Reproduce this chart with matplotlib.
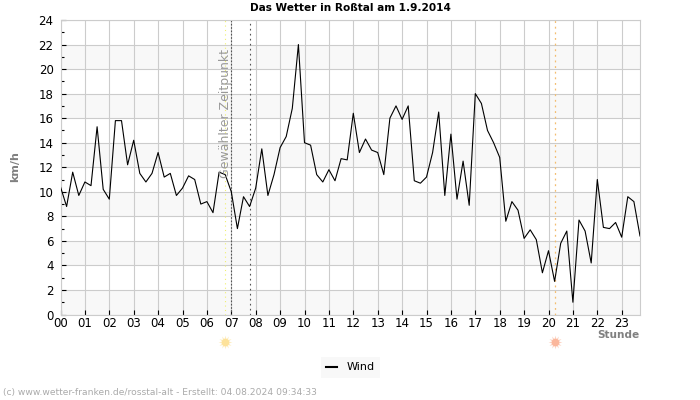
import matplotlib
matplotlib.use("Agg")
import matplotlib.pyplot as plt
import numpy as np

# Windwerte alle 15 Minuten (km/h)
wind = [10.4, 8.8, 11.6, 9.7, 10.8, 10.5, 15.3, 10.2, 9.4, 15.8, 15.8, 12.2,
        14.2, 11.5, 10.8, 11.5, 13.2, 11.2, 11.5, 9.7, 10.3, 11.3, 11.0, 9.0,
        9.2, 8.3, 11.6, 11.4, 10.0, 7.0, 9.6, 8.8, 10.3, 13.5, 9.7, 11.4,
        13.6, 14.5, 16.8, 22.0, 14.0, 13.8, 11.4, 10.8, 11.8, 10.9, 12.7, 12.6,
        16.4, 13.2, 14.3, 13.4, 13.2, 11.4, 16.0, 17.0, 15.9, 17.0, 10.9, 10.7,
        11.2, 13.2, 16.5, 9.7, 14.7, 9.4, 12.5, 8.9, 18.0, 17.2, 15.0, 14.0,
        12.8, 7.6, 9.2, 8.5, 6.2, 6.9, 6.1, 3.4, 5.2, 2.7, 5.8, 6.8,
        1.0, 7.7, 6.8, 4.2, 11.0, 7.1, 7.0, 7.5, 6.3, 9.6, 9.2, 6.4]
stunden = np.arange(len(wind)) * 0.25
x_labels = ["%02d" % h for h in range(24)]
bands = [0, 4, 8, 12, 16, 20]

sunrise = 6.75
sunset = 20.25
selected = 7.0
selected2 = 7.75

plt.rcParams['font.family'] = 'DejaVu Sans'
fig = plt.figure(figsize=(7, 4), dpi=100)
ax = fig.add_axes([60.5/700, 1-314.5/400, 579.5/700, 294.5/400])

for b in bands:
    ax.axhspan(b, b+2, color='#f8f8f8', lw=0, zorder=0)
ax.grid(True, which='major', color='#cccccc', lw=0.8, zorder=1)
ax.set_axisbelow(True)

ax.axvline(sunrise, color='#f0f070', lw=0.8, ls=(0, (1, 3)), zorder=2)
ax.axvline(sunset, color='#f3bd70', lw=0.9, ls=(0, (1.5, 3)), zorder=2)
ax.axvline(selected, color='#555555', lw=0.8, ls=(0, (1.5, 1.5)), zorder=2)
ax.axvline(selected2, color='#555555', lw=0.8, ls=(0, (1.5, 3)), zorder=2)

line, = ax.plot(stunden, wind, color='black', lw=0.8, label='Wind', zorder=3)

ax.set_xlim(0, 23.75)
ax.set_ylim(0, 24)
ax.set_xticks(np.arange(24))
ax.set_xticklabels(x_labels)
ax.set_yticks(np.arange(0, 25, 2))
ax.set_yticks(np.arange(1, 24, 2), minor=True)
ax.tick_params(axis='both', which='major', direction='in', length=3.5, width=0.8,
               labelsize=8.5, colors='black')
ax.tick_params(axis='x', which='major', pad=2)
ax.tick_params(axis='y', which='minor', direction='in', length=2.2, width=0.8)
ax.tick_params(axis='y', which='major', pad=5)
for s in ax.spines.values():
    s.set_color('#cccccc')
    s.set_linewidth(0.8)

ax.text(6.75, 11.15, "Gewählter Zeitpunkt", rotation=90, color='#999999', fontsize=9,
        ha='center', va='bottom', zorder=4)

fig.text(350/700, 1-8/400, "Das Wetter in Roßtal am 1.9.2014", fontsize=7.6, fontweight='bold',
         ha='center', va='center')
fig.text(15/700, 1-167/400, "km/h", rotation=90, color='#808080', fontsize=8, fontweight='bold',
         ha='center', va='center')
fig.text(639/700, 1-335/400, "Stunde", color='#808080', fontsize=7.6, fontweight='bold',
         ha='right', va='center')
fig.text(3/700, 1-393/400, "(c) www.wetter-franken.de/rosstal-alt - Erstellt: 04.08.2024 09:34:33",
         color='#aaaaaa', fontsize=6.6, ha='left', va='center')

# Sonnenauf- und -untergang unter der Achse
trans = ax.get_xaxis_transform()
for t, c in [(sunrise, '#fde29a'), (sunset, '#fbb79c')]:
    ax.plot([t], [-0.0925], marker=(12, 1, 0), ms=10, color=c, mew=0, transform=trans, clip_on=False, alpha=0.6)
    ax.plot([t], [-0.0925], marker='o', ms=5.5, color=c, mew=0, transform=trans, clip_on=False)

leg = ax.legend(handles=[line], loc='center', bbox_to_anchor=(350.5/700, 1-367.5/400),
                bbox_transform=fig.transFigure, frameon=True, fontsize=8, handlelength=0.95,
                handletextpad=0.9, borderpad=0.5, borderaxespad=0, fancybox=False)
leg.get_frame().set_facecolor('#f8f8f8')
leg.get_frame().set_edgecolor('none')
leg.get_frame().set_alpha(1)
leg.get_lines()[0].set_linewidth(1.5)

fig.savefig("out.png", dpi=100)
